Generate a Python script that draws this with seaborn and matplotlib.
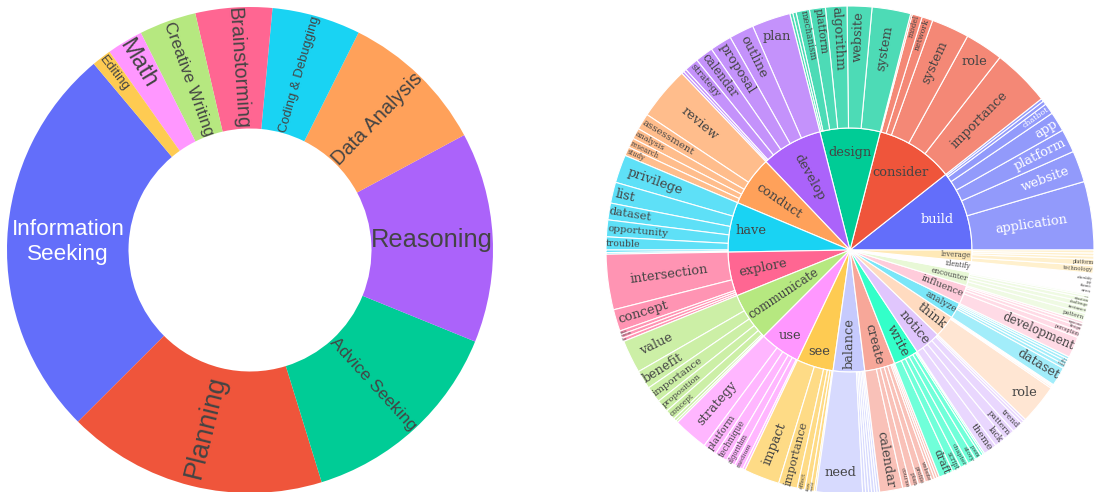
import colorsys
import numpy as np
import matplotlib
import matplotlib.pyplot as plt
import seaborn as sns
from matplotlib.font_manager import FontProperties
from matplotlib.textpath import TextPath

# left donut: share of each task category (%)
categories = ["Information\nSeeking", "Planning", "Advice Seeking", "Reasoning", "Data Analysis",
              "Coding & Debugging", "Brainstorming", "Creative Writing", "Math", "Editing"]
category_share = [26.4, 17.3, 14.1, 14.0, 9.8, 5.9, 5.1, 3.8, 2.4, 1.3]

# right sunburst: root verbs (inner ring) and their top direct objects (outer ring)
verbs = ["build", "consider", "design", "develop", "conduct", "have", "explore", "communicate",
         "use", "see", "balance", "create", "write", "notice", "think", "analyze", "influence",
         "encounter", "identify", "leverage"]
nouns = [
    ["application", "website", "platform", "app", "chatbot", "", ""],
    ["importance", "role", "system", "network", "model", ""],
    ["system", "website", "algorithm", "platform", "mechanism", "", ""],
    ["plan", "outline", "proposal", "calendar", "strategy", "", ""],
    ["review", "assessment", "analysis", "research", "study"],
    ["privilege", "list", "dataset", "opportunity", "trouble", "", ""],
    ["intersection", "concept", "state", "tension", "line"],
    ["value", "benefit", "importance", "proposition", "concept", "", ""],
    ["strategy", "platform", "technique", "algorithm", "medium", ""],
    ["impact", "importance", "effect", "flaw", "world", ""],
    ["need", "", "", "", "", "", ""],
    ["calendar", "course", "plan", "profile", "website", "", "", ""],
    ["draft", "script", "chapter", "story", "poem", "", ""],
    ["theme", "lack", "pattern", "trend", "", ""],
    ["role", "", "", ""],
    ["dataset", "trend", "data", "tool", ""],
    ["development", "perception", "design", "experience", ""],
    ["pattern", "instance", "challenge", "situation", "issue", ""],
    ["area", "theme", "gap", "vulnerability", "", ""],
    ["technology", "platform", "", "", ""],
]
noun_share = [
    [16.3, 7.5, 5.6, 4.7, 2.6, 0.9, 0.7],
    [13.8, 9.1, 9.0, 2.6, 2.4, 0.4],
    [9.2, 5.9, 5.1, 3.8, 3.2, 0.8, 0.7],
    [9.2, 5.9, 5.2, 4.3, 3.4, 0.7, 0.6],
    [12.7, 3.9, 2.6, 2.3, 2.1],
    [6.7, 5.0, 4.0, 4.0, 3.1, 0.6, 0.4],
    [13.2, 5.2, 0.9, 0.9, 0.8],
    [7.9, 4.5, 3.9, 3.0, 2.5, 0.7, 0.5],
    [8.3, 3.3, 3.0, 2.2, 2.1, 0.6],
    [8.5, 4.5, 1.8, 1.3, 1.0, 0.4],
    [11.0, 0.7, 0.7, 0.7, 0.7, 0.6, 0.6],
    [5.5, 1.9, 1.9, 1.7, 1.6, 0.7, 0.6, 0.6],
    [3.4, 2.1, 2.0, 2.0, 1.5, 0.6, 0.4],
    [3.2, 2.7, 2.7, 2.6, 0.7, 0.6],
    [9.5, 0.4, 0.3, 0.3],
    [4.5, 0.9, 0.8, 0.7, 0.6],
    [5.0, 1.5, 1.1, 0.8, 0.6],
    [1.9, 1.4, 1.2, 1.0, 0.6, 0.4],
    [1.3, 1.1, 0.9, 0.8, 0.5, 0.4],
    [1.8, 1.5, 0.8, 0.7, 0.7],
]

plotly_colors = ["#636EFA", "#EF553B", "#00CC96", "#AB63FA", "#FFA15A",
                 "#19D3F3", "#FF6692", "#B6E880", "#FF97FF", "#FECB52"]

sns.set_theme(style="white")
palette = sns.color_palette(plotly_colors)


def lighten(c, amt=0.2):
    h, l, s = colorsys.rgb_to_hls(*c)
    return colorsys.hls_to_rgb(h, min(1.0, l + amt), s)


def leaf(c, alpha=0.7):
    return tuple(np.array(c) * alpha + (1 - alpha))


def text_color(c):
    r, g, b = c
    return "#444444" if (r * 299 + g * 587 + b * 114) * 255 / 1000 >= 128 else "white"


def text_size(s, family):
    fp = FontProperties(family=family, size=100)
    lines = s.split("\n")
    w = max(TextPath((0, 0), ln, prop=fp).get_extents().width for ln in lines) / 100
    return w, 1.2 * len(lines)


def max_half(a, half, r, ring):
    q = a + 1 / (2 * np.tan(half))
    return r * min(1 / (np.sqrt(q * q + 0.5) + q), ring / (np.sqrt(a * a + ring / 2) + a))


def norm_rot(deg):
    return (deg + 810) % 180 - 90


# fit a label inside its wedge, horizontal if it fits, otherwise the larger of horizontal/radial
def place_label(ax, wedge, r_in, text, family, cap, color, orient="auto"):
    if not text:
        return
    cx, cy = wedge.center
    r = wedge.r
    half = np.radians(wedge.theta2 - wedge.theta1) / 2
    mid = (wedge.theta1 + wedge.theta2) / 2
    ring = 1 - r_in / r
    w1, h1 = text_size(text, family)
    w, h = w1 * cap, h1 * cap
    options = []
    if orient in ("auto", "horizontal"):
        r_ins = min(1 / (1 + 1 / np.sin(half)), ring / 2)
        options.append((r_ins * r * 2 / np.hypot(w, h), 1 - r_ins, 0.0))
    if orient == "radial" or (orient == "auto" and options[0][0] < 1):
        rp = max(1, r - 6)
        a = w / h
        s = max_half(a, half, rp, ring)
        options.append((2 * s / h, np.cos(s / rp) - a * s / rp, norm_rot(mid)))
    sc, frac, rot = max(options, key=lambda o: o[0])
    px = cap * min(sc, 1)
    if px < 2:
        return
    ang = np.radians(mid)
    ax.text(cx + frac * r * np.cos(ang), cy + frac * r * np.sin(ang), text,
            fontsize=px * 0.72, rotation=rot, rotation_mode="anchor",
            ha="center", va="center", color=color, family=family, linespacing=1.2)


fig = plt.figure(figsize=(10.94, 4.92), dpi=100)
ax = fig.add_axes([0, 0, 1, 1])

# donut
donut_c = (250, 242)
donut_r = 243
wedges, _ = ax.pie(category_share, radius=donut_r, center=donut_c, startangle=130,
                   counterclock=True, colors=palette,
                   wedgeprops=dict(width=donut_r / 2, linewidth=0))
orientation = {"Information\nSeeking": "horizontal", "Reasoning": "horizontal",
               "Planning": "radial", "Advice Seeking": "radial", "review": "radial"}
for wd, lab, col in zip(wedges, categories, palette):
    place_label(ax, wd, donut_r / 2, lab, "Liberation Sans", 27, text_color(col),
                orientation.get(lab, "auto"))

# sunburst
sun_c = (850, 242)
sun_r = 244
verb_colors = list(palette) + [lighten(c) for c in palette]
verb_share = [sum(v) for v in noun_share]
inner, _ = ax.pie(verb_share, radius=sun_r / 2, center=sun_c, startangle=0, counterclock=True,
                  colors=verb_colors, wedgeprops=dict(edgecolor="white", linewidth=0.8))

leaf_share, leaf_word, leaf_col, leaf_txt = [], [], [], []
for i, v in enumerate(verbs):
    for word, share in zip(nouns[i], noun_share[i]):
        leaf_share.append(share)
        leaf_word.append(word)
        leaf_col.append(leaf(verb_colors[i]))
        leaf_txt.append(text_color(verb_colors[i]))
outer, _ = ax.pie(leaf_share, radius=sun_r, center=sun_c, startangle=0, counterclock=True,
                  colors=leaf_col, wedgeprops=dict(width=sun_r / 2, edgecolor="white", linewidth=0.8))

for wd, lab, col in zip(inner, verbs, verb_colors):
    place_label(ax, wd, 0, lab, "DejaVu Serif", 13, text_color(col))
for wd, lab, tc in zip(outer, leaf_word, leaf_txt):
    place_label(ax, wd, sun_r / 2, lab, "DejaVu Serif", 13, tc, orientation.get(lab, "auto"))

ax.set_xlim(0, 1094)
ax.set_ylim(0, 492)
ax.axis("off")
fig.savefig("out.png", dpi=100, facecolor="white")
